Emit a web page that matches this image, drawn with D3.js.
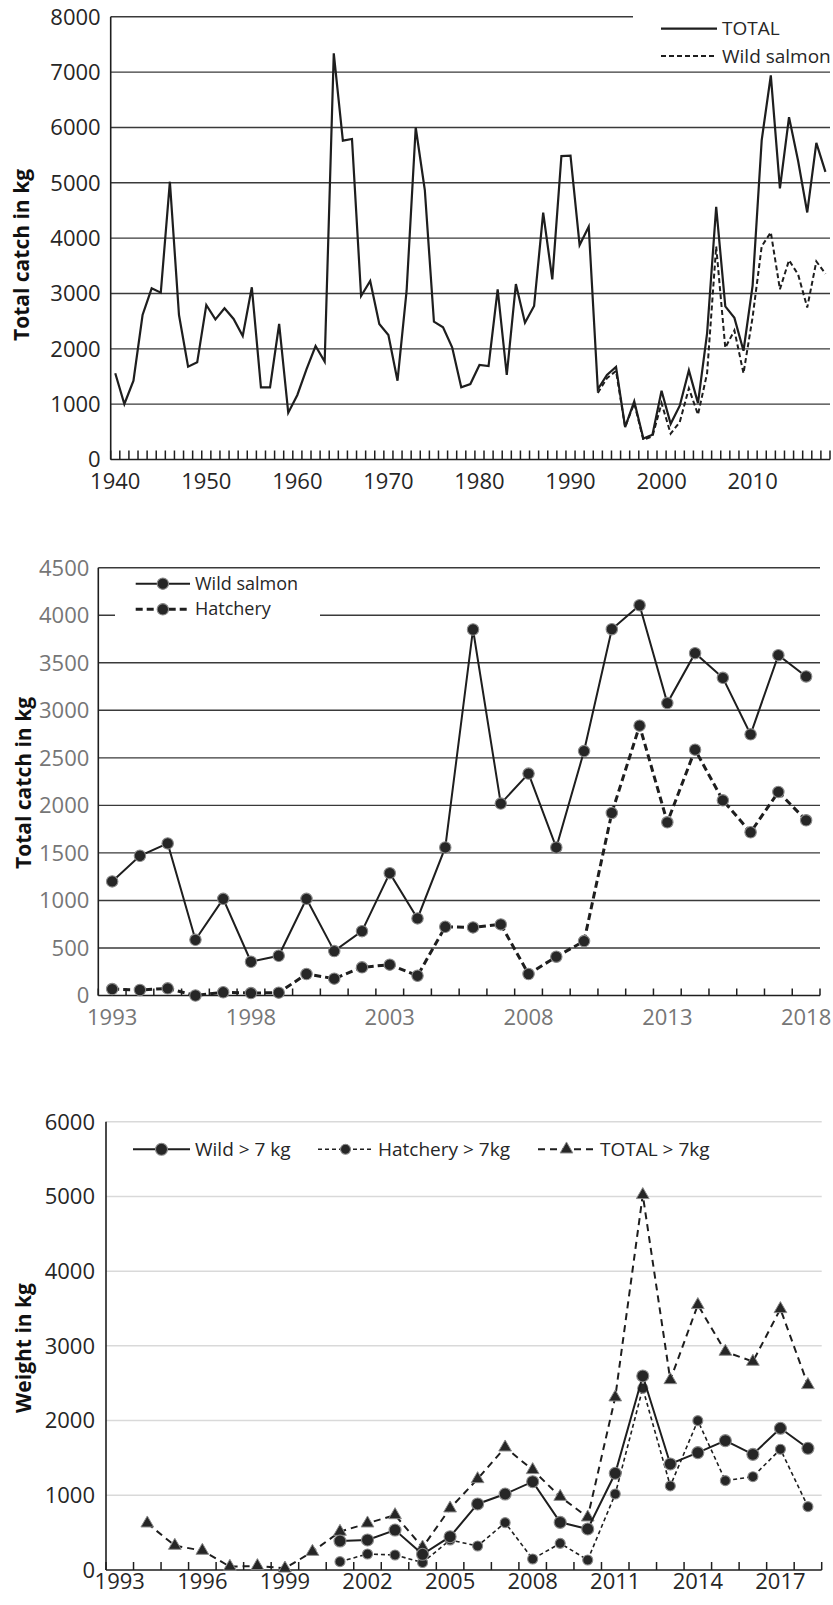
<!DOCTYPE html>
<html><head><meta charset="utf-8">
<script src="https://cdn.jsdelivr.net/npm/d3@7"></script>
<style>
body{margin:0;background:#fff;}
svg{display:block;font-family:"Open Sans",sans-serif;}
</style></head><body>
<svg id="c" width="833" height="1605"></svg>
<script>
// ---- Panel A: annual catch 1940-2018 ----
const yearsA = d3.range(1940, 2019);
const totalCatch = [
  1558,1003,1424,2611,3093,3015,5020,2611,1677,1756,
  2792,2533,2732,2540,2232,3112,1305,1305,2449,846,
  1166,1630,2051,1768,7340,5761,5791,2954,3225,2449,
  2250,1424,3050,6000,4870,2490,2389,2027,1305,1364,
  1708,1690,3075,1527,3171,2472,2774,4460,3256,5484,
  5490,3876,4207,1268,1528,1675,586,1051,381,448,
  1243,644,973,1611,1019,2280,4566,2767,2560,1965,
  3143,5773,6943,4898,6187,5395,4464,5721,5199
];
const yearsB = d3.range(1993, 2019);
const wildSalmon = [1200,1470,1600,586,1017,355,418,1017,467,677,1287,811,1557,3850,2019,2334,1557,2571,3853,4105,3076,3601,3342,2747,3580,3356];
const hatchery   = [68,58,75,0,34,26,30,226,177,296,324,208,723,716,748,226,408,572,1920,2838,1822,2586,2053,1717,2141,1843];
// ---- Panel C: fish above 7 kg ----
const wild7  = [null,null,null,null,null,null,null,null,388,402,535,210,446,884,1017,1182,638,549,1294,2597,1419,1571,1731,1548,1897,1629];
const hatch7 = [null,null,null,null,null,null,null,null,112,214,201,100,402,321,634,147,357,134,1017,2432,1125,1999,1196,1249,1616,848];
const total7 = [null,625,326,259,45,54,22,245,513,625,736,303,826,1218,1642,1339,981,705,2312,5020,2543,3548,2923,2789,3494,2477];

const ticksA = [0,1000,2000,3000,4000,5000,6000,7000,8000];
const ticksB = [0,500,1000,1500,2000,2500,3000,3500,4000,4500];
const ticksC = [0,1000,2000,3000,4000,5000,6000];
const labelsA = [1940,1950,1960,1970,1980,1990,2000,2010];
const labelsB = [1993,1998,2003,2008,2013,2018];
const labelsC = [1993,1996,1999,2002,2005,2008,2011,2014,2017];

const svg = d3.select("#c");
const INK = "#1e1e1e";

function panel(o){
  const g = svg.append("g");
  const x = d3.scaleBand().domain(o.years).range([o.left, o.right]).padding(0);
  const y = d3.scaleLinear().domain([0, o.max]).range([o.bottom, o.top]);
  const cx = d => x(d) + x.bandwidth()/2;
  // gridlines
  g.selectAll(".grid").data(o.yticks.filter(v => v > 0)).join("line")
    .attr("x1", o.left).attr("x2", o.right)
    .attr("y1", d => y(d)).attr("y2", d => y(d))
    .attr("stroke", o.gridColor).attr("stroke-width", o.gridWidth);
  // y tick labels
  g.selectAll(".yl").data(o.yticks).join("text")
    .attr("x", o.left - o.labelGap).attr("y", d => y(d)).attr("dy", "0.36em")
    .attr("text-anchor", "end").attr("font-size", 22).attr("fill", o.labelColor)
    .text(d => d);
  // axes
  g.append("line").attr("x1", o.left).attr("x2", o.left).attr("y1", o.top).attr("y2", o.bottom)
    .attr("stroke", INK).attr("stroke-width", 1.6);
  g.append("line").attr("x1", o.left).attr("x2", o.right).attr("y1", o.bottom).attr("y2", o.bottom)
    .attr("stroke", INK).attr("stroke-width", 1.6);
  const bounds = o.years.map(d => x(d)).concat([o.right]);
  g.selectAll(".tk").data(bounds).join("line")
    .attr("x1", d => d).attr("x2", d => d).attr("y1", o.bottom).attr("y2", o.bottom - o.tickLen)
    .attr("stroke", INK).attr("stroke-width", 1.5);
  g.selectAll(".xl").data(o.xlabels).join("text")
    .attr("x", d => cx(d)).attr("y", o.xLabelY).attr("text-anchor", "middle")
    .attr("font-size", 22).attr("fill", o.labelColor).text(d => d);
  // y title
  g.append("text").attr("transform", `translate(${o.titleX},${o.titleY}) rotate(-90)`)
    .attr("text-anchor", "middle").attr("font-size", 21).attr("font-weight", 700)
    .attr("fill", "#111").text(o.title);
  return {g, x, y, cx};
}

function series(p, years, vals, style){
  const pts = years.map((d,i) => ({d, v: vals[i]}));
  const line = d3.line().defined(e => e.v != null).x(e => p.cx(e.d)).y(e => p.y(e.v));
  p.g.append("path").datum(pts).attr("d", line).attr("fill", "none")
    .attr("stroke", style.color || INK).attr("stroke-width", style.width)
    .attr("stroke-dasharray", style.dash || null).attr("stroke-linejoin", "miter");
  if (style.marker) {
    const m = pts.filter(e => e.v != null);
    drawMarkers(p.g, m.map(e => [p.cx(e.d), p.y(e.v)]), style.marker, style.r);
  }
}

function drawMarkers(g, xy, kind, r){
  if (kind === "circle") {
    g.selectAll(null).data(xy).join("circle")
      .attr("cx", d => d[0]).attr("cy", d => d[1]).attr("r", r)
      .attr("fill", "#262626").attr("stroke", "#8a8a8a").attr("stroke-width", 1.1);
  } else {
    const sym = d3.symbol().type(d3.symbolTriangle).size(r);
    g.selectAll(null).data(xy).join("path")
      .attr("transform", d => `translate(${d[0]},${d[1]})`).attr("d", sym)
      .attr("fill", "#262626").attr("stroke", "#8a8a8a").attr("stroke-width", 1);
  }
}

function legendItem(g, x1, x2, y, ty, label, style, fs){
  g.append("line").attr("x1", x1).attr("x2", x2).attr("y1", y).attr("y2", y)
    .attr("stroke", INK).attr("stroke-width", style.width).attr("stroke-dasharray", style.dash || null);
  if (style.marker) drawMarkers(g, [[(x1+x2)/2, y]], style.marker, style.r);
  g.append("text").attr("x", x2 + 5).attr("y", ty).attr("font-size", fs).attr("fill", "#262626").text(label);
}

// Panel A
const pA = panel({years: yearsA, max: 8000, yticks: ticksA, xlabels: labelsA,
  left: 110.7, right: 830, top: 16.8, bottom: 459.5, gridColor: "#3a3a3a", gridWidth: 1.4,
  labelColor: "#262626", labelGap: 10, tickLen: 9, xLabelY: 489,
  title: "Total catch in kg", titleX: 29, titleY: 255});
pA.g.append("rect").attr("x", 633).attr("y", 8).attr("width", 200).attr("height", 58).attr("fill", "#fff");
series(pA, yearsB, wildSalmon, {width: 2, dash: "5,3"});
series(pA, yearsA, totalCatch, {width: 2.2});
legendItem(pA.g, 661, 717, 28.7, 35, "TOTAL", {width: 2.2}, 19);
legendItem(pA.g, 661, 717, 56, 62.7, "Wild salmon", {width: 2, dash: "5,3"}, 19);

// Panel B
const pB = panel({years: yearsB, max: 4500, yticks: ticksB, xlabels: labelsB,
  left: 98.3, right: 820, top: 567.7, bottom: 995.5, gridColor: "#3a3a3a", gridWidth: 1.4,
  labelColor: "#767676", labelGap: 9, tickLen: 7, xLabelY: 1025,
  title: "Total catch in kg", titleX: 31, titleY: 783});
pB.g.append("rect").attr("x", 115).attr("y", 574).attr("width", 205).attr("height", 54).attr("fill", "#fff");
series(pB, yearsB, hatchery, {width: 3, dash: "7,4", marker: "circle", r: 5.7});
series(pB, yearsB, wildSalmon, {width: 2, marker: "circle", r: 5.7});
legendItem(pB.g, 135.7, 190, 583.7, 590, "Wild salmon", {width: 2, marker: "circle", r: 5.7}, 18);
legendItem(pB.g, 135.7, 190, 609.3, 615.3, "Hatchery", {width: 3, dash: "7,4", marker: "circle", r: 5.7}, 18);

// Panel C
const pC = panel({years: yearsB, max: 6000, yticks: ticksC, xlabels: labelsC,
  left: 106, right: 821.7, top: 1121.7, bottom: 1570, gridColor: "#d9d9d9", gridWidth: 1.5,
  labelColor: "#262626", labelGap: 11, tickLen: 8, xLabelY: 1589,
  title: "Weight in kg", titleX: 31, titleY: 1348});
series(pC, yearsB, total7, {width: 2, dash: "7,5", marker: "triangle", r: 70});
series(pC, yearsB, hatch7, {width: 1.6, dash: "4,3", marker: "circle", r: 5});
series(pC, yearsB, wild7, {width: 2, marker: "circle", r: 6});
legendItem(pC.g, 133, 190, 1149.3, 1155.7, "Wild > 7 kg", {width: 2, marker: "circle", r: 6}, 19);
legendItem(pC.g, 318, 373, 1149.3, 1155.7, "Hatchery > 7kg", {width: 1.6, dash: "4,3", marker: "circle", r: 5}, 19);
legendItem(pC.g, 538, 595, 1149.3, 1155.7, "TOTAL > 7kg", {width: 2, dash: "7,5", marker: "triangle", r: 70}, 19);
</script>
</body></html>
